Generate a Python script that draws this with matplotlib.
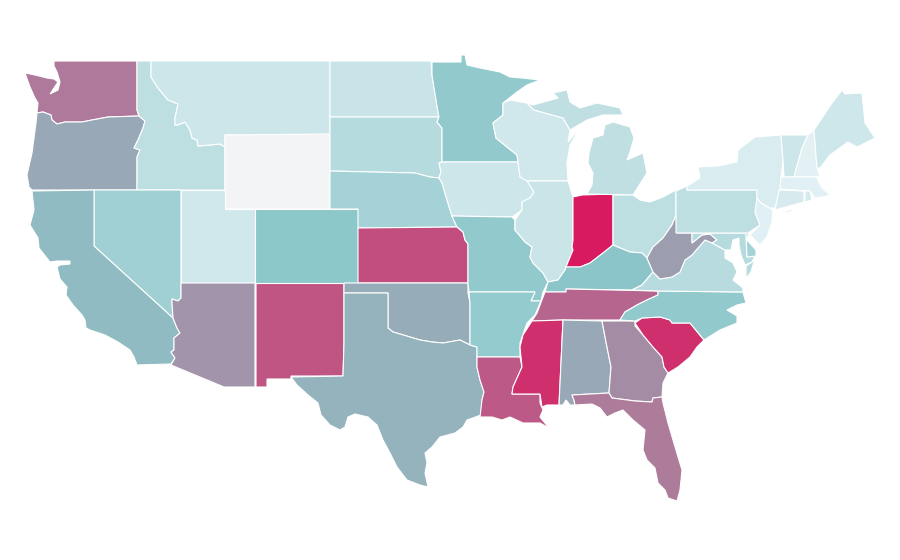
import matplotlib
matplotlib.use("Agg")
import matplotlib.pyplot as plt
from matplotlib.colors import LinearSegmentedColormap, Normalize

# State outlines, in map units (x right, y down)
WA = [(54,61),(137,61),(137,110),(139,116),(108,117),(92,120),(82,122),(65,122),(57,124),(52,120),(51,115),(43,112),(37,113),(38,103),(35,98),(30,87),(25,73),(35,75),(47,78),(54,79),(58,82),(50,94),(58,90),(60,82),(57,72),(54,66)]
OR = [(37,113),(43,112),(51,115),(52,120),(57,124),(65,122),(82,122),(92,120),(108,117),(139,116),(145,121),(143,128),(138,140),(134,148),(140,150),(137,157),(137,190),(32,190),(29,187),(27,175),(32,153),(36,123)]
ID = [(137,61),(151,61),(151,77),(158,88),(168,100),(178,104),(175,118),(175,125),(178,125),(185,122),(190,130),(192,138),(197,140),(198,146),(210,145),(220,144),(225,147),(225,190),(137,190),(137,157),(140,150),(134,148),(138,140),(143,128),(145,121),(139,116),(137,110)]
MT = [(151,61),(330,61),(330,135),(225,135),(225,147),(220,144),(210,145),(198,146),(197,140),(192,138),(190,130),(185,122),(178,125),(175,125),(175,118),(178,104),(168,100),(158,88),(151,77)]
WY = [(225,135),(330,134),(330,209),(225,209)]
UT = [(181,190),(225,190),(225,209),(255,209),(255,283),(181,283)]
NV = [(94,190),(181,190),(181,298),(178,301),(172,299),(172,303),(173,318),(94,246)]
CA = [(32,191),(94,190),(94,246),(173,318),(177,328),(180,333),(174,338),(174,350),(171,352),(175,358),(171,364),(137,365),(134,357),(130,350),(118,342),(105,335),(90,330),(86,328),(85,320),(82,315),(73,305),(66,295),(67,287),(60,279),(57,267),(60,265),(70,264),(70,261),(57,261),(50,262),(39,248),(38,238),(30,225),(34,210)]
AZ = [(181,283),(255,283),(255,387),(224,387),(171,365),(175,358),(171,352),(174,350),(174,338),(180,333),(177,328),(173,318),(172,303),(172,299),(178,301),(181,298)]
NM = [(256,283),(344,283),(344,343),(343,376),(291,376),(291,379),(267,379),(267,387),(256,387)]
CO = [(255,209),(358,209),(358,283),(255,283)]
ND = [(330,61),(431,61),(432,75),(436,100),(438,112),(439,117),(330,117)]
SD = [(330,117),(439,117),(437,122),(442,128),(442,162),(439,163),(441,172),(439,178),(430,177),(415,173),(330,171)]
NE = [(330,171),(415,173),(430,177),(439,178),(442,183),(447,200),(452,216),(457,227),(358,228),(358,209),(330,209)]
KS = [(358,228),(457,227),(463,232),(465,240),(468,244),(468,283),(358,283)]
OK = [(344,283),(468,283),(468,293),(470,303),(470,345),(460,340),(443,343),(432,342),(420,340),(410,337),(400,334),(393,332),(388,328),(388,293),(344,293)]
TX = [(344,293),(388,293),(388,328),(393,332),(400,334),(410,337),(420,340),(432,342),(443,343),(460,340),(470,345),(477,347),(477,367),(480,380),(484,392),(482,400),(481,415),(467,420),(463,427),(455,433),(440,437),(432,447),(425,453),(427,463),(425,473),(428,487),(420,485),(407,480),(397,467),(390,453),(383,440),(377,425),(368,417),(355,414),(348,417),(345,427),(340,430),(330,425),(321,415),(318,403),(308,395),(297,385),(291,377),(343,376),(344,343)]
MN = [(432,62),(461,62),(461,55),(465,55),(467,65),(480,68),(500,72),(510,77),(522,78),(540,80),(527,85),(517,92),(503,103),(503,115),(493,123),(496,138),(507,147),(517,155),(518,162),(442,162),(442,128),(437,122),(439,117),(438,112),(436,100),(432,75)]
IA = [(442,162),(518,162),(520,177),(527,180),(534,192),(530,198),(522,202),(522,210),(512,217),(452,216),(447,200),(442,183),(439,178),(441,172),(439,163)]
MO = [(452,216),(512,217),(515,220),(515,230),(525,242),(532,247),(530,257),(533,263),(543,273),(548,282),(543,292),(541,301),(531,301),(535,292),(469,292),(468,283),(468,244),(465,240),(463,232),(457,227)]
AR = [(469,292),(535,292),(531,301),(541,301),(535,315),(527,323),(520,343),(520,357),(477,357),(477,347),(470,345),(470,303)]
LA = [(477,357),(520,357),(522,367),(513,387),(512,394),(540,394),(540,403),(543,410),(540,417),(549,428),(540,423),(533,423),(523,423),(510,417),(502,420),(492,417),(480,417),(482,400),(484,392),(480,380),(477,367)]
WI = [(503,103),(510,100),(527,103),(534,110),(563,118),(570,130),(568,142),(580,128),(570,145),(567,163),(568,181),(527,181),(520,177),(518,162),(517,155),(507,147),(496,138),(493,123),(503,115)]
IL = [(527,181),(568,181),(573,197),(573,240),(572,247),(573,250),(566,267),(565,270),(558,280),(548,282),(543,273),(533,263),(530,257),(532,247),(525,242),(515,230),(515,220),(522,210),(522,202),(530,198),(534,192)]
IN = [(573,197),(582,195),(613,194),(613,245),(603,253),(590,263),(580,267),(566,267),(573,250),(572,247),(573,240)]
MI_LOWER = [(587,194),(633,195),(638,187),(647,173),(643,153),(627,160),(630,152),(634,138),(630,127),(613,122),(605,125),(603,135),(593,138),(589,153),(588,163),(593,173),(592,185)]
MI_UPPER = [(527,103),(533,105),(558,98),(553,93),(567,90),(570,102),(580,108),(597,103),(620,108),(623,115),(603,115),(587,120),(570,130),(563,118),(534,110)]
OH = [(613,195),(633,195),(640,200),(650,202),(663,197),(676,190),(676,215),(672,225),(663,238),(653,247),(647,258),(642,253),(630,252),(620,248),(613,245)]
KY = [(566,267),(580,267),(590,263),(603,253),(613,245),(620,248),(630,252),(642,253),(647,258),(653,272),(642,285),(632,290),(566,289),(566,292),(545,292),(548,282),(558,280),(565,270)]
TN = [(545,292),(566,292),(566,289),(658,291),(658,295),(647,300),(637,305),(625,312),(620,320),(563,320),(532,321),(537,313)]
MS = [(532,321),(563,320),(559,405),(547,405),(542,407),(540,394),(512,394),(513,387),(522,367),(520,347),(523,335)]
AL = [(563,320),(602,321),(607,347),(611,367),(609,393),(572,395),(574,400),(575,405),(570,405),(566,400),(563,405),(559,405)]
GA = [(602,321),(635,321),(635,326),(643,335),(653,347),(662,357),(664,367),(668,373),(663,383),(662,397),(653,398),(652,402),(635,401),(612,398),(609,393),(611,367),(607,347)]
FL = [(572,395),(609,393),(612,398),(635,401),(652,402),(653,398),(662,397),(663,403),(668,423),(673,440),(678,457),(682,470),(680,490),(677,501),(668,498),(665,490),(658,483),(655,468),(647,460),(643,450),(645,430),(633,420),(623,410),(615,413),(607,417),(600,408),(592,404),(575,405),(574,400)]
SC = [(635,323),(642,318),(660,317),(670,320),(672,323),(690,323),(704,340),(697,347),(690,357),(678,367),(668,373),(664,367),(662,357),(653,347),(643,335)]
NC = [(658,291),(743,292),(746,303),(737,305),(727,310),(737,316),(737,323),(720,330),(704,340),(690,323),(672,323),(670,320),(660,317),(642,318),(635,321),(620,320),(625,312),(637,305),(647,300),(658,295)]
VA = [(632,290),(642,285),(653,272),(660,279),(672,277),(680,272),(685,260),(692,255),(698,248),(705,240),(712,243),(725,250),(725,258),(733,263),(737,272),(733,280),(743,288),(743,292),(658,291)]
VA_SHORE = [(752,262),(755,258),(751,272),(746,278),(746,266)]
WV = [(676,215),(677,233),(692,233),(692,243),(702,235),(710,234),(717,240),(712,243),(705,240),(698,248),(692,255),(685,260),(680,272),(672,277),(660,279),(653,272),(647,258),(653,247),(663,238),(672,225)]
MD = [(692,233),(746,233),(747,257),(755,256),(752,262),(745,265),(741,255),(739,245),(739,238),(733,240),(731,250),(725,250),(712,243),(717,240),(710,234),(702,235),(692,243)]
DE = [(746,233),(749,230),(747,240),(756,250),(756,256),(747,257)]
PA = [(676,191),(687,186),(687,190),(757,190),(757,198),(761,203),(755,212),(760,225),(748,233),(676,233)]
NY = [(687,186),(700,178),(698,167),(718,166),(737,162),(738,150),(755,137),(781,135),(783,160),(780,190),(775,208),(770,208),(761,203),(757,198),(757,190),(687,190)]
NY_LONG_ISLAND = [(773,215),(800,207),(790,212)]
VT = [(781,135),(808,135),(802,148),(794,177),(784,177),(783,160)]
NH = [(808,135),(814,130),(817,168),(820,177),(794,177),(802,148)]
ME = [(814,130),(832,103),(842,90),(845,94),(862,93),(865,123),(875,138),(857,147),(848,142),(830,155),(820,168),(817,168)]
MA = [(784,177),(820,177),(817,178),(822,188),(830,195),(823,197),(815,198),(810,191),(780,189),(781,177)]
CT = [(779,190),(804,191),(804,202),(775,210)]
RI = [(805,191),(810,191),(812,200),(805,202)]
NJ = [(757,198),(761,203),(773,210),(772,222),(767,237),(760,245),(750,235),(760,225),(755,212)]

# one entry per state: outline parts, value
states = [
    ([WA], 72.5), ([OR], 58.7), ([ID], 26), ([MT], 18.5), ([WY], 0), ([UT], 17),
    ([NV], 40), ([CA], 53.5), ([AZ], 64.5), ([NM], 83), ([CO], 49.5), ([ND], 21),
    ([SD], 30), ([NE], 38), ([KS], 85), ([OK], 57.5), ([TX], 55.5), ([MN], 46.6),
    ([IA], 18.5), ([MO], 46.6), ([AR], 45.6), ([LA], 81.7), ([WI], 17.5), ([IL], 20),
    ([IN], 100), ([MI_LOWER, MI_UPPER], 25), ([OH], 26), ([KY], 50), ([TN], 78),
    ([MS], 94), ([AL], 58.7), ([GA], 67), ([FL], 71.5), ([SC], 94), ([NC], 46.6),
    ([VA, VA_SHORE], 29), ([WV], 62), ([MD], 30), ([DE], 38), ([PA], 26),
    ([NY, NY_LONG_ISLAND], 13), ([VT], 19.5), ([NH], 8), ([ME], 18), ([MA], 9),
    ([CT], 14), ([RI], 15), ([NJ], 9),
]

cmap = LinearSegmentedColormap.from_list(
    "teal_crimson",
    [(0, "#f3f4f6"), (0.08, "#e3f1f5"), (0.5, "#8bc6c9"), (1, "#d81b60")],
)
norm = Normalize(0, 100)

fig = plt.figure(figsize=(9, 5.6), dpi=100)
ax = fig.add_axes([0, 0, 1, 1])

for parts, value in states:
    for outline in parts:
        xs = [p[0] for p in outline]
        ys = [p[1] for p in outline]
        ax.fill(xs, ys, facecolor=cmap(norm(value)), edgecolor="white", linewidth=0.8)

ax.set_xlim(0, 900)
ax.set_ylim(560, 0)
ax.axis("off")

fig.savefig("out.png", dpi=100, facecolor="white")
